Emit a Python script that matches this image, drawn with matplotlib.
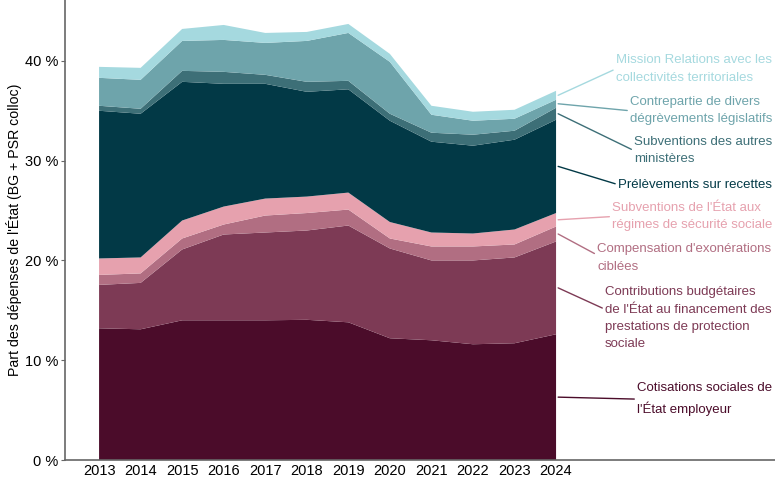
import matplotlib
matplotlib.use("Agg")
import matplotlib.pyplot as plt
import numpy as np

plt.rcParams['font.family'] = ['Liberation Sans', 'DejaVu Sans']

years = [2013, 2014, 2015, 2016, 2017, 2018, 2019, 2020, 2021, 2022, 2023, 2024]

cotisations = [13.2, 13.1, 14.0, 14.0, 14.0, 14.05, 13.8, 12.2, 12.0, 11.6, 11.7, 12.6]
contributions = [4.35, 4.65, 7.1, 8.6, 8.8, 8.95, 9.7, 9.0, 8.0, 8.4, 8.6, 9.3]
compensation = [1.0, 0.95, 1.1, 1.0, 1.7, 1.75, 1.6, 1.0, 1.4, 1.4, 1.3, 1.5]
subv_regimes = [1.65, 1.6, 1.8, 1.8, 1.7, 1.65, 1.7, 1.65, 1.4, 1.3, 1.5, 1.35]
prelevements = [14.8, 14.4, 13.9, 12.3, 11.5, 10.5, 10.35, 10.15, 9.1, 8.8, 9.0, 9.35]
subv_autres = [0.5, 0.5, 1.1, 1.2, 0.9, 1.0, 0.85, 0.7, 0.9, 1.1, 0.9, 1.2]
contrepartie = [2.8, 2.9, 3.0, 3.2, 3.2, 4.1, 4.8, 5.2, 1.8, 1.4, 1.2, 0.8]
mission = [1.1, 1.2, 1.2, 1.5, 1.0, 0.9, 0.9, 0.8, 0.9, 0.9, 0.9, 0.9]

series = [cotisations, contributions, compensation, subv_regimes,
          prelevements, subv_autres, contrepartie, mission]
labels = [
    "Cotisations sociales de\nl'État employeur",
    "Contributions budgétaires\nde l'État au financement des\nprestations de protection\nsociale",
    "Compensation d'exonérations\nciblées",
    "Subventions de l'État aux\nrégimes de sécurité sociale",
    "Prélèvements sur recettes",
    "Subventions des autres\nministères",
    "Contrepartie de divers\ndégrèvements législatifs",
    "Mission Relations avec les\ncollectivités territoriales",
]
colors = ["#4b0c2a", "#7d3a55", "#b16e82", "#e6a1ae",
          "#023946", "#3d6f77", "#6ea4ab", "#a5d9df"]

# label placement (x in years, y in %), and attach point on text (relative y)
label_x = [2025.95, 2025.18, 2024.99, 2025.35, 2025.49, 2025.88, 2025.78, 2025.44]
label_y = [6.1, 14.2, 20.25, 24.4, 27.6, 31.0, 35.0, 39.2]
rel_y = [0.5, 0.64, 0.6, 0.5, 0.5, 0.5, 0.5, 0.5]

fig = plt.figure(figsize=(7.75, 4.79), dpi=100)
ax = fig.add_axes([65/775, 19/479, 710/775, 460/479])

ax.stackplot(years, *series, colors=colors, linewidth=0)

cum = np.cumsum(np.array(series), axis=0)
bottoms = np.vstack([np.zeros(len(years)), cum[:-1]])
for i, lab in enumerate(labels):
    mid = (bottoms[i][-1] + cum[i][-1]) / 2
    ax.annotate(lab, xy=(years[-1] + 0.05, mid), xytext=(label_x[i], label_y[i]),
                textcoords='data', ha='left', va='center', color=colors[i],
                fontsize=9.5, linespacing=1.6,
                arrowprops=dict(arrowstyle='-', color=colors[i], lw=1.0,
                                shrinkA=0, shrinkB=0, relpos=(0, rel_y[i])))

ax.set_xlim(2012.18, 2029.27)
ax.set_ylim(0, 46.1)
ax.set_xticks(years)
ax.set_xticklabels([str(y) for y in years], fontsize=10.5)
ax.set_yticks([0, 10, 20, 30, 40])
ax.set_yticklabels(["0 %", "10 %", "20 %", "30 %", "40 %"], fontsize=10.5)
ax.set_ylabel("Part des dépenses de l'État (BG + PSR colloc)", fontsize=10.2, labelpad=2)
for s in ['top', 'right']:
    ax.spines[s].set_visible(False)
for s in ['left', 'bottom']:
    ax.spines[s].set_color('#666666')
    ax.spines[s].set_linewidth(1.2)
ax.tick_params(axis='y', length=3, color='#666666', pad=2)
ax.tick_params(axis='x', length=0, pad=3)

fig.savefig("out.png", dpi=100)
